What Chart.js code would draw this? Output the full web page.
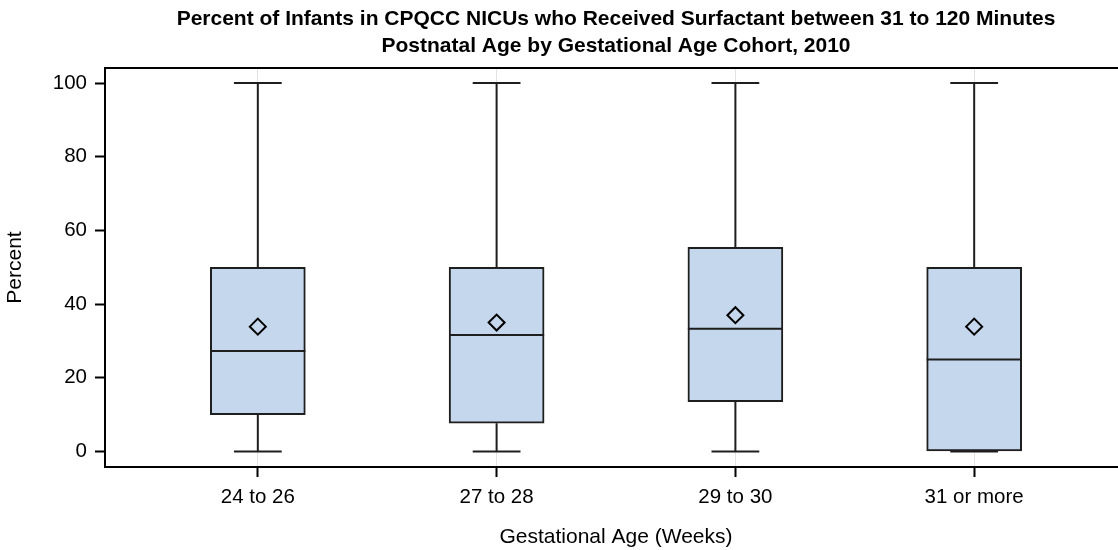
<!DOCTYPE html>
<html>
<head>
<meta charset="utf-8">
<script src="https://cdn.jsdelivr.net/npm/chart.js@4.4.1/dist/chart.umd.min.js"></script>
<style>
  html, body { margin: 0; padding: 0; overflow: hidden; background: #ffffff; }
  /* the plot frame runs slightly past the right edge of the window */
  #wrap { width: 1127px; height: 550px; }
</style>
</head>
<body>
<div id="wrap"><canvas id="c" width="1127" height="550"></canvas></div>
<script>
// Surfactant 31-120 min, percent of infants per NICU, by gestational age cohort
const categories = ['24 to 26', '27 to 28', '29 to 30', '31 or more'];
const minima  = [0, 0, 0, 0];
const q1      = [10, 7.7, 13.5, 0];
const medians = [27.3, 31.6, 33.3, 25.0];
const q3      = [50, 50, 55.4, 50];
const maxima  = [100, 100, 100, 100];
const means   = [33.9, 35.0, 37.0, 33.9];
const yTicks  = [0, 20, 40, 60, 80, 100];

const BOX_HALF = 0.199;   // half box width, in category units
const CAP_HALF = 0.1;     // half whisker-cap width
const INK = '#1e1e1e';
const FONT = "'Liberation Sans', Arial, sans-serif";

// whiskers + caps as one broken line (null points split the segments)
const whiskerPts = [];
categories.forEach((c, i) => {
  whiskerPts.push({x: i, y: minima[i]}, {x: i, y: q1[i]}, {x: i, y: null});
  whiskerPts.push({x: i, y: q3[i]}, {x: i, y: maxima[i]}, {x: i, y: null});
  whiskerPts.push({x: i - CAP_HALF, y: minima[i]}, {x: i + CAP_HALF, y: minima[i]}, {x: i, y: null});
  whiskerPts.push({x: i - CAP_HALF, y: maxima[i]}, {x: i + CAP_HALF, y: maxima[i]}, {x: i, y: null});
});
const medianPts = [];
categories.forEach((c, i) => {
  medianPts.push({x: i - BOX_HALF, y: medians[i]}, {x: i + BOX_HALF, y: medians[i]}, {x: i, y: null});
});

// top edge of the plot frame
const frameTop = {
  id: 'frameTop',
  afterDatasetsDraw(chart) {
    const {ctx, chartArea: a} = chart;
    ctx.save();
    ctx.strokeStyle = '#000';
    ctx.lineWidth = 2;
    ctx.beginPath();
    ctx.moveTo(a.left, a.top);
    ctx.lineTo(a.right, a.top);
    ctx.stroke();
    ctx.restore();
  }
};

new Chart(document.getElementById('c'), {
  type: 'bar',
  data: {
    datasets: [
      {
        type: 'line', label: 'Mean',
        data: categories.map((c, i) => ({x: i, y: means[i]})),
        showLine: false, pointStyle: 'rectRot', pointRadius: 8,
        pointBorderWidth: 2, pointBorderColor: '#000',
        pointBackgroundColor: 'rgba(0,0,0,0)', order: 0
      },
      {
        type: 'line', label: 'Median', data: medianPts,
        borderColor: INK, borderWidth: 2, pointRadius: 0,
        spanGaps: false, order: 1
      },
      {
        type: 'bar', label: 'IQR',
        data: categories.map((c, i) => ({x: i, y: [q1[i], q3[i]]})),
        backgroundColor: '#c5d7ec', borderColor: INK, borderWidth: 2,
        borderSkipped: false, barThickness: 95, order: 2
      },
      {
        type: 'line', label: 'Whiskers', data: whiskerPts,
        borderColor: INK, borderWidth: 2, pointRadius: 0,
        spanGaps: false, order: 3
      }
    ]
  },
  options: {
    responsive: false,
    animation: false,
    layout: { autoPadding: false, padding: 0 },
    plugins: {
      legend: { display: false },
      tooltip: { enabled: false },
      title: {
        display: true,
        fullSize: false,
        text: ['Percent of Infants in CPQCC NICUs who Received Surfactant between 31 to 120 Minutes',
               'Postnatal Age by Gestational Age Cohort, 2010'],
        color: '#000',
        font: { family: FONT, size: 21, weight: 'bold', lineHeight: 1.2857 },
        padding: { top: 5.5, bottom: 8.5 }
      }
    },
    scales: {
      x: {
        type: 'linear', min: -0.64, max: 3.64, offset: false,
        afterFit: s => { s.height = 83; s.paddingLeft = 0; s.paddingRight = 0; },
        afterBuildTicks: s => { s.ticks = categories.map((c, i) => ({value: i})); },
        ticks: {
          callback: v => categories[v], color: '#000', padding: 8,
          font: { family: FONT, size: 20.5 }, maxRotation: 0, autoSkip: false
        },
        grid: { color: '#e2e2e2', lineWidth: 1, tickColor: '#000', tickLength: 10, tickWidth: 2, offset: false },
        border: { color: '#000', width: 2 },
        title: {
          display: true, text: 'Gestational Age (Weeks)', color: '#000',
          font: { family: FONT, size: 21, lineHeight: 1.2 }, padding: { top: 0, bottom: 0.5 }
        }
      },
      y: {
        type: 'linear', min: -4.2, max: 104.1,
        afterFit: s => { s.width = 105; },
        afterBuildTicks: s => { s.ticks = yTicks.map(v => ({value: v})); },
        ticks: { color: '#000', padding: 8, font: { family: FONT, size: 20.5 } },
        grid: { drawOnChartArea: false, tickColor: '#000', tickLength: 10, tickWidth: 2 },
        border: { color: '#000', width: 2 },
        title: {
          display: true, text: 'Percent', color: '#000',
          font: { family: FONT, size: 21, lineHeight: 1.2 }, padding: { top: 3, bottom: 0 }
        }
      }
    }
  },
  plugins: [frameTop]
});
</script>
</body>
</html>
